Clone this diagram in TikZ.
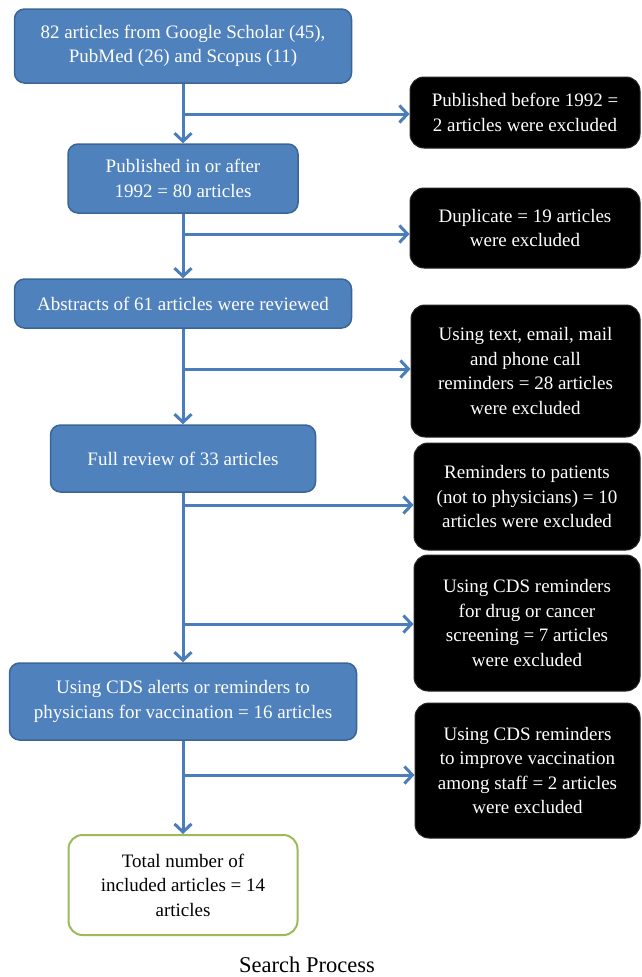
\documentclass[tikz,border=0pt]{standalone}
\usepackage{fontspec}
\setmainfont{Liberation Serif}
\usetikzlibrary{arrows.meta}
\definecolor{boxblue}{HTML}{4F81BD}
\definecolor{boxedge}{HTML}{3A6596}
\definecolor{arrowblue}{HTML}{4A7EBB}
\definecolor{boxgreen}{HTML}{9BBB59}
\begin{document}
\begin{tikzpicture}[x=1pt,y=-1pt,
  every node/.style={font=\fontsize{19}{24.5}\selectfont, align=center, inner sep=0pt},
  bluebox/.style={draw=boxedge, line width=1.5pt, fill=boxblue, text=white, rounded corners=10pt},
  blackbox/.style={draw=black!85, line width=1pt, fill=black, text=white, rounded corners=14pt},
  greenbox/.style={draw=boxgreen, line width=2pt, fill=white, text=black, rounded corners=14pt},
  arr/.style={draw=arrowblue, line width=3pt, -{Straight Barb[length=8pt,width=17pt]}}]
\useasboundingbox (0,0) rectangle (642,977);
% left column
\node[bluebox, minimum width=337pt, minimum height=74pt] (b1) at (183,46) {82 articles from Google Scholar (45),\\PubMed (26) and Scopus (11)};
\node[bluebox, minimum width=230pt, minimum height=69pt] (b2) at (183,178.5) {Published in or after\\1992 = 80 articles};
\node[bluebox, minimum width=337pt, minimum height=49pt] (b3) at (183,303.5) {Abstracts of 61 articles were reviewed};
\node[bluebox, minimum width=265pt, minimum height=67pt] (b4) at (183,458.5) {Full review of 33 articles};
\node[bluebox, minimum width=347pt, minimum height=77pt] (b5) at (183,701.5) {Using CDS alerts or reminders to\\physicians for vaccination = 16 articles};
\node[greenbox, minimum width=229pt, minimum height=100pt] (g) at (183,885) {Total number of\\included articles = 14\\articles};
% right column
\node[blackbox, minimum width=230pt, minimum height=71pt] (e1) at (525,112.5) {Published before 1992 =\\2 articles were excluded};
\node[blackbox, minimum width=230pt, minimum height=80pt] (e2) at (525,228) {Duplicate = 19 articles\\were excluded};
\node[blackbox, minimum width=229pt, minimum height=132pt] (e3) at (525.5,371) {Using text, email, mail\\and phone call\\reminders = 28 articles\\were excluded};
\node[blackbox, minimum width=226pt, minimum height=107pt] (e4) at (527,496.5) {Reminders to patients\\(not to physicians) = 10\\articles were excluded};
\node[blackbox, minimum width=226pt, minimum height=136pt] (e5) at (527,623) {Using CDS reminders\\for drug or cancer\\screening = 7 articles\\were excluded};
\node[blackbox, minimum width=225pt, minimum height=135pt] (e6) at (527.5,770.5) {Using CDS reminders\\to improve vaccination\\among staff = 2 articles\\were excluded};
% caption
\node[font=\fontsize{22.5}{27}\selectfont] (cap) at (307,965) {Search Process};
% junctions
\coordinate (j1) at (183,114);
\coordinate (j2) at (183,234);
\coordinate (j3) at (183,369);
\coordinate (j4) at (183,505);
\coordinate (j5) at (183,624);
\coordinate (j6) at (183,775);
% trunk arrows
\draw[arr] (b1.south) -- (b2.north);
\draw[arr] (b2.south) -- (b3.north);
\draw[arr] (b3.south) -- (b4.north);
\draw[arr] (b4.south) -- (b5.north);
\draw[arr] (b5.south) -- (g.north);
% branch arrows
\draw[arr] (j1) -- (j1 -| e1.west);
\draw[arr] (j2) -- (j2 -| e2.west);
\draw[arr] (j3) -- (j3 -| e3.west);
\draw[arr] (j4) -- (j4 -| e4.west);
\draw[arr] (j5) -- (j5 -| e5.west);
\draw[arr] (j6) -- (j6 -| e6.west);
\end{tikzpicture}
\end{document}
